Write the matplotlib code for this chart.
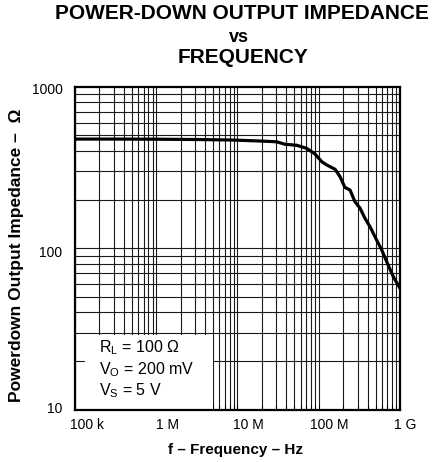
import numpy as np
import matplotlib
matplotlib.use("Agg")
import matplotlib.pyplot as plt
from matplotlib.patches import Rectangle
from matplotlib.transforms import ScaledTranslation

plt.rcParams["font.family"] = ["Liberation Sans", "DejaVu Sans"]
plt.rcParams["mathtext.fontset"] = "custom"
plt.rcParams["mathtext.rm"] = "Liberation Sans"
plt.rcParams["mathtext.it"] = "Liberation Sans"

# Power-down output impedance vs frequency
freq_hz = [1e5, 3e5, 1e6, 3e6, 8.1e6, 1.89e7, 3.03e7, 3.84e7, 5.35e7, 7.11e7,
           9.0e7, 1.09e8, 1.25e8, 1.59e8, 1.83e8, 2.1e8, 2.43e8, 2.79e8,
           3.22e8, 3.71e8, 4.27e8, 5.17e8, 5.96e8, 6.86e8, 8.27e8, 1e9]
impedance_ohm = [474, 474, 473, 471, 468, 461, 456, 440, 434, 415,
                 383, 343, 328, 308, 277, 238, 229, 194,
                 177, 153, 136, 112, 97.5, 82.5, 66.6, 56.5]

x_ticks = [1e5, 1e6, 1e7, 1e8, 1e9]
x_tick_labels = ["100 k", "1 M", "10 M", "100 M", "1 G"]
y_ticks = [10, 100, 1000]
y_tick_labels = ["10", "100", "1000"]

conditions = [r"R$_\mathrm{L}$ = 100 Ω", r"V$_\mathrm{O}$ = 200 mV", r"V$_\mathrm{S}$ = 5 V"]

W, H, DPI = 435, 462, 100
fig = plt.figure(figsize=(W / DPI, H / DPI), dpi=DPI)
ax = fig.add_axes([75 / W, 1 - 409.7 / H, 325 / W, 323 / H])
ax.set_xscale("log")
ax.set_yscale("log")
ax.set_xlim(1e5, 1e9)
ax.set_ylim(10, 1000)

# Log grid: every 1..9 step in each decade
xmin, xmax = ax.get_xlim()
ymin, ymax = ax.get_ylim()
gx = [m * 10.0 ** d for d in range(int(np.log10(xmin)), int(np.log10(xmax)))
      for m in range(1, 10)]
gy = [m * 10.0 ** d for d in range(int(np.log10(ymin)), int(np.log10(ymax)))
      for m in range(1, 10)]
ax.vlines(gx, ymin, ymax, colors="#1a1a1a", linewidth=0.8, zorder=1)
ax.hlines(gy, xmin, xmax, colors="#1a1a1a", linewidth=0.8, zorder=1)

# White panel holding the test conditions
ax.add_patch(Rectangle((0.031, 0.0), 0.394, 0.231, transform=ax.transAxes,
                       facecolor="white", edgecolor="none", zorder=2))
for i, txt in enumerate(conditions):
    ax.text(99 / W, 1 - (348 + 21.5 * i) / H, txt, transform=fig.transFigure,
            fontsize=11.5, va="center", ha="left", zorder=5)

ax.plot(freq_hz, impedance_ohm, color="black", linewidth=2.3,
        solid_capstyle="round", solid_joinstyle="round", zorder=4)

ax.set_xticks(x_ticks)
ax.set_xticklabels(x_tick_labels)
ax.set_yticks(y_ticks)
ax.set_yticklabels(y_tick_labels)
ax.set_xticks(gx, minor=True)
ax.set_xticklabels([], minor=True)
ax.set_yticks([], minor=True)
ax.tick_params(axis="both", which="both", direction="in", length=3.5,
               width=0.75, labelsize=10, top=False, right=False)
ax.tick_params(axis="x", which="major", pad=6)
ax.tick_params(axis="y", which="major", pad=9, length=0)

# Nudge tick labels
x_offsets = [12, 11, 11, 11, 5]
for lab, dx in zip(ax.get_xticklabels(), x_offsets):
    lab.set_transform(lab.get_transform() + ScaledTranslation(dx / DPI, 0, fig.dpi_scale_trans))
y_offsets = [2, -3, -2]
for lab, dy in zip(ax.get_yticklabels(), y_offsets):
    lab.set_transform(lab.get_transform() + ScaledTranslation(0, dy / DPI, fig.dpi_scale_trans))

for sp in ax.spines.values():
    sp.set_linewidth(1.6)
    sp.set_zorder(6)

fig.text(241.5 / W, 1 - 13.7 / H, "POWER-DOWN OUTPUT IMPEDANCE", fontsize=15,
         fontweight="bold", ha="center", va="center")
fig.text(239 / W, 1 - 42 / H, "vs", fontsize=13, fontweight="bold",
         ha="center", va="baseline")
fig.text(243 / W, 1 - 57.5 / H, "FREQUENCY", fontsize=15, fontweight="bold",
         ha="center", va="center")

fig.text(236 / W, 1 - 450 / H, "f – Frequency – Hz", fontsize=11,
         fontweight="bold", ha="center", va="center")
fig.text(17 / W, 1 - 255 / H, "Powerdown Output Impedance –  Ω", fontsize=12.5,
         fontweight="bold", ha="center", va="center", rotation=90)

fig.savefig("out.png", dpi=DPI)
